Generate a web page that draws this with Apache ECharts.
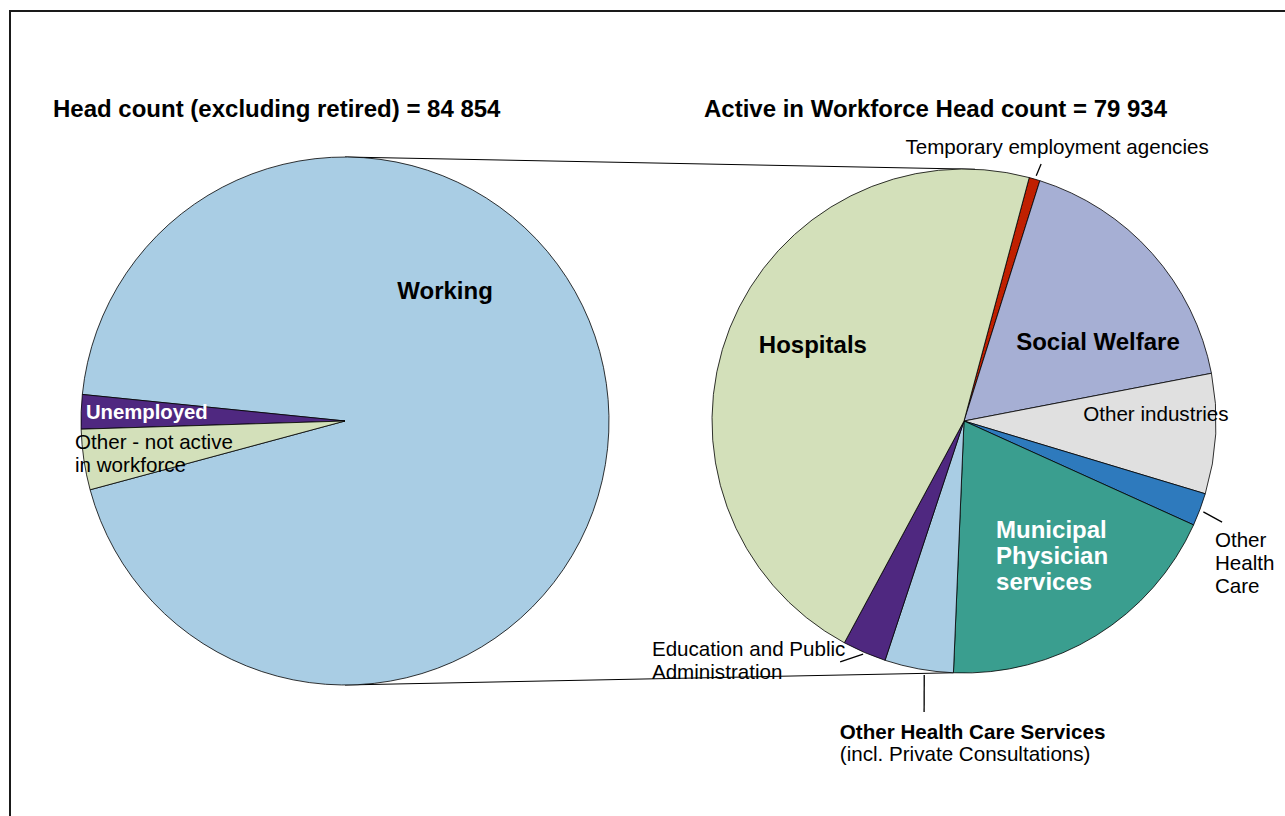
<!DOCTYPE html>
<html>
<head>
<meta charset="UTF-8">
<title>Head count</title>
<script src="https://cdn.jsdelivr.net/npm/echarts@6.0.0/dist/echarts.min.js"></script>
<style>
html, body { margin: 0; padding: 0; background: #fff; }
#chart { width: 1285px; height: 816px; }
</style>
</head>
<body>
<div id="chart"></div>
<script>
// left pie: head count excluding retired
var leftNames = ['Working', 'Unemployed', 'Other - not active in workforce'];
var leftValues = [79934, 1780, 3140];
var leftLabels = ['Working', 'Unemployed', 'Other - not active\nin workforce'];
var leftColors = ['#a9cde4', '#4f2880', '#d3e0ba'];

// right pie: active in workforce, by sector
var rightNames = ['Temporary employment agencies', 'Social Welfare', 'Other industries', 'Other Health Care',
  'Municipal Physician services', 'Other Health Care Services', 'Education and Public Administration', 'Hospitals'];
var rightValues = [560, 13670, 6150, 1680, 15110, 3520, 2240, 37004];
var rightLabels = ['Temporary employment agencies', 'Social Welfare', 'Other industries', 'Other\nHealth\nCare',
  'Municipal\nPhysician\nservices', '{b|Other Health Care Services}\n(incl. Private Consultations)',
  'Education and Public\nAdministration', 'Hospitals'];
var rightColors = ['#c02000', '#a6afd4', '#e0e0e0', '#2e7abd', '#3a9e8f', '#a9cde4', '#4f2880', '#d3e0ba'];

var FONT = "'Liberation Sans', Arial, sans-serif";
var SMALL = 20.6;
var L = { c: [345, 421], r: 264, start: 195.1 };
var R = { c: [964, 421], r: 252, start: 75 };

// label spots: [angle, fraction of radius, align]
var leftSpots = [[52.6, 0.624, 'center'], [178.0, 0.982, 'left'], [186.8, 1.03, 'left']];
var rightSpots = [[71.3, 1.152, 'center'], [30.8, 0.619, 'center'], [2.1, 0.762, 'center'], [-29.5, 1.144, 'left'],
  [-76.6, 0.549, 'left'], [-111.1, 1.369, 'left'], [-142.5, 1.561, 'left'], [153.0, 0.673, 'center']];
var leftStyle = [
  { fontSize: 24, fontWeight: 'bold', color: '#000' },
  { fontSize: 20.3, fontWeight: 'bold', color: '#fff' },
  { fontSize: SMALL, color: '#000', lineHeight: 23 }
];
var rightStyle = [
  { fontSize: SMALL, color: '#000' },
  { fontSize: 24, fontWeight: 'bold', color: '#000' },
  { fontSize: SMALL, color: '#000' },
  { fontSize: SMALL, color: '#000', lineHeight: 23 },
  { fontSize: 24, fontWeight: 'bold', color: '#fff', lineHeight: 26 },
  { fontSize: SMALL, color: '#000', lineHeight: 22, rich: { b: { fontSize: SMALL, fontWeight: 'bold', color: '#000', fontFamily: FONT } } },
  { fontSize: SMALL, color: '#000', lineHeight: 23 },
  { fontSize: 24, fontWeight: 'bold', color: '#000' }
];

function sum(a) { var s = 0; for (var i = 0; i < a.length; i++) s += a[i]; return s; }
function fmt(n) { return String(n).replace(/\B(?=(\d{3})+(?!\d))/g, ' '); }
function polar(p, deg, f) {
  var a = deg * Math.PI / 180;
  return [p.c[0] + p.r * f * Math.cos(a), p.c[1] - p.r * f * Math.sin(a)];
}

function buildData(names, values, labels, colors, styles) {
  var out = [];
  for (var i = 0; i < names.length; i++) {
    var st = styles[i];
    out.push({
      name: names[i],
      value: values[i],
      itemStyle: { color: colors[i] },
      label: {
        formatter: labels[i],
        fontSize: st.fontSize,
        fontWeight: st.fontWeight || 'normal',
        color: st.color,
        lineHeight: st.lineHeight,
        rich: st.rich
      }
    });
  }
  return out;
}

function spotLayout(p, spots) {
  return function (params) {
    var s = spots[params.dataIndex];
    var pt = polar(p, s[0], s[1]);
    return { x: pt[0], y: pt[1], align: s[2], verticalAlign: 'middle' };
  };
}

// angle where Municipal slice ends (clockwise from start)
var cum = 0;
for (var i = 0; i <= 4; i++) cum += rightValues[i];
var municipalEnd = R.start - cum / sum(rightValues) * 360;

// leader lines on right pie: [angle1, f1, angle2, f2]
var leaders = [[73.6, 1.015, 73.3, 1.065], [-20.8, 1.016, -21.4, 1.1], [-113.4, 1.008, -117.2, 1.075], [-98.9, 1.02, -97.8, 1.166]];

var graphics = [
  { type: 'rect', shape: { x: 10, y: 11, width: 1400, height: 900 }, style: { fill: 'none', stroke: '#1a1a1a', lineWidth: 2 }, silent: true },
  { type: 'line', shape: { x1: polar(L, 90, 1)[0], y1: polar(L, 90, 1)[1], x2: polar(R, 87.5, 1)[0], y2: polar(R, 87.5, 1)[1] }, style: { stroke: '#000', lineWidth: 1 } },
  { type: 'line', shape: { x1: polar(L, -90, 1)[0], y1: polar(L, -90, 1)[1], x2: polar(R, municipalEnd, 1)[0], y2: polar(R, municipalEnd, 1)[1] }, style: { stroke: '#000', lineWidth: 1 } }
];
for (var k = 0; k < leaders.length; k++) {
  var a = polar(R, leaders[k][0], leaders[k][1]);
  var b = polar(R, leaders[k][2], leaders[k][3]);
  graphics.push({ type: 'line', shape: { x1: a[0], y1: a[1], x2: b[0], y2: b[1] }, style: { stroke: '#000', lineWidth: 1.3 } });
}

var myChart = echarts.init(document.getElementById('chart'), null, { renderer: 'svg' });
var option = {
  animation: false,
  backgroundColor: '#fff',
  textStyle: { fontFamily: FONT },
  title: [
    { text: 'Head count (excluding retired) = ' + fmt(sum(leftValues)), left: 53, top: 96, padding: 0,
      textStyle: { fontSize: 24, fontWeight: 'bold', color: '#000', fontFamily: FONT } },
    { text: 'Active in Workforce Head count = ' + fmt(sum(rightValues)), left: 704, top: 96, padding: 0,
      textStyle: { fontSize: 24, fontWeight: 'bold', color: '#000', fontFamily: FONT } }
  ],
  graphic: graphics,
  series: [
    {
      type: 'pie',
      center: L.c,
      radius: L.r,
      startAngle: L.start,
      clockwise: false,
      silent: true,
      itemStyle: { borderColor: '#000', borderWidth: 0.8 },
      label: { position: 'inside', fontFamily: FONT },
      labelLine: { show: false },
      labelLayout: spotLayout(L, leftSpots),
      data: buildData(leftNames, leftValues, leftLabels, leftColors, leftStyle)
    },
    {
      type: 'pie',
      center: R.c,
      radius: R.r,
      startAngle: R.start,
      clockwise: true,
      silent: true,
      itemStyle: { borderColor: '#000', borderWidth: 0.8 },
      label: { position: 'inside', fontFamily: FONT },
      labelLine: { show: false },
      labelLayout: spotLayout(R, rightSpots),
      data: buildData(rightNames, rightValues, rightLabels, rightColors, rightStyle)
    }
  ]
};
myChart.setOption(option);
</script>
</body>
</html>
